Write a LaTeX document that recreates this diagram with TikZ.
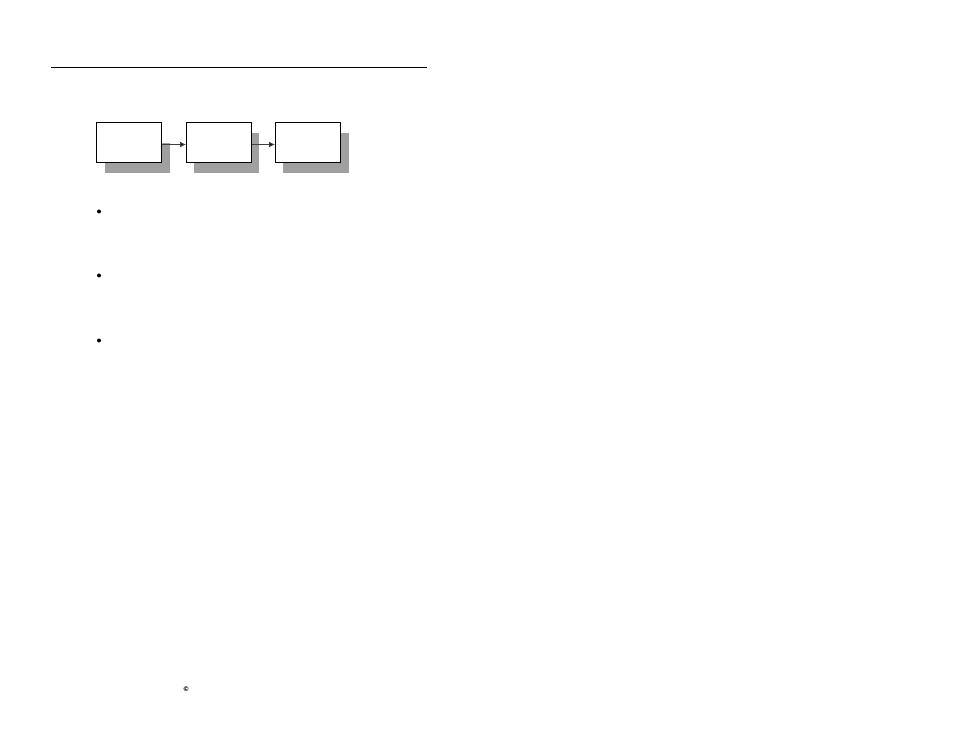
\documentclass[tikz,border=0pt]{standalone}
\usetikzlibrary{arrows.meta}
\usepackage{fontspec}
\newfontfamily\symfont{DejaVu Sans}
\begin{document}
\begin{tikzpicture}[x=1pt,y=-1pt,
  boxstyle/.style={draw=black, line width=0.9pt, fill=white},
  shadowstyle/.style={fill=shadowgray, draw=none},
  conn/.style={draw=black!75, line width=1pt, -{Latex[length=6pt,width=6pt,fill=black]}},
  bulletdot/.style={circle, fill=black, inner sep=0pt, minimum size=4pt}]
\definecolor{shadowgray}{HTML}{A0A0A0}
\useasboundingbox (0,0) rectangle (954,738);
% top rule
\coordinate (ruleL) at (51,67.5);
\coordinate (ruleR) at (427,67.5);
\draw[line width=0.9pt] (ruleL) -- (ruleR);
% shadows
\fill[shadowstyle] (105,143) rectangle (170,173);
\fill[shadowstyle] (194,133) rectangle (259,173);
\fill[shadowstyle] (283,133) rectangle (349,173);
% boxes
\node[boxstyle, minimum width=65pt, minimum height=40pt, inner sep=0pt, anchor=north west] (b1) at (96,122) {};
\node[boxstyle, minimum width=65pt, minimum height=40pt, inner sep=0pt, anchor=north west] (b2) at (186,122) {};
\node[boxstyle, minimum width=65pt, minimum height=40pt, inner sep=0pt, anchor=north west] (b3) at (275,122) {};
% connectors
\draw[conn] (b1.east |- 0,144.5) -- (b2.west |- 0,144.5);
\draw[conn] (b2.east |- 0,144.5) -- (b3.west |- 0,144.5);
% bullets
\node[bulletdot] (d1) at (99,211.5) {};
\node[bulletdot] (d2) at (99,275.5) {};
\node[bulletdot] (d3) at (99,340.5) {};
% copyright mark
\node[inner sep=0pt, font=\symfont\bfseries\fontsize{6.5}{6.5}\selectfont] (copy) at (186,689) {©};
\end{tikzpicture}
\end{document}
